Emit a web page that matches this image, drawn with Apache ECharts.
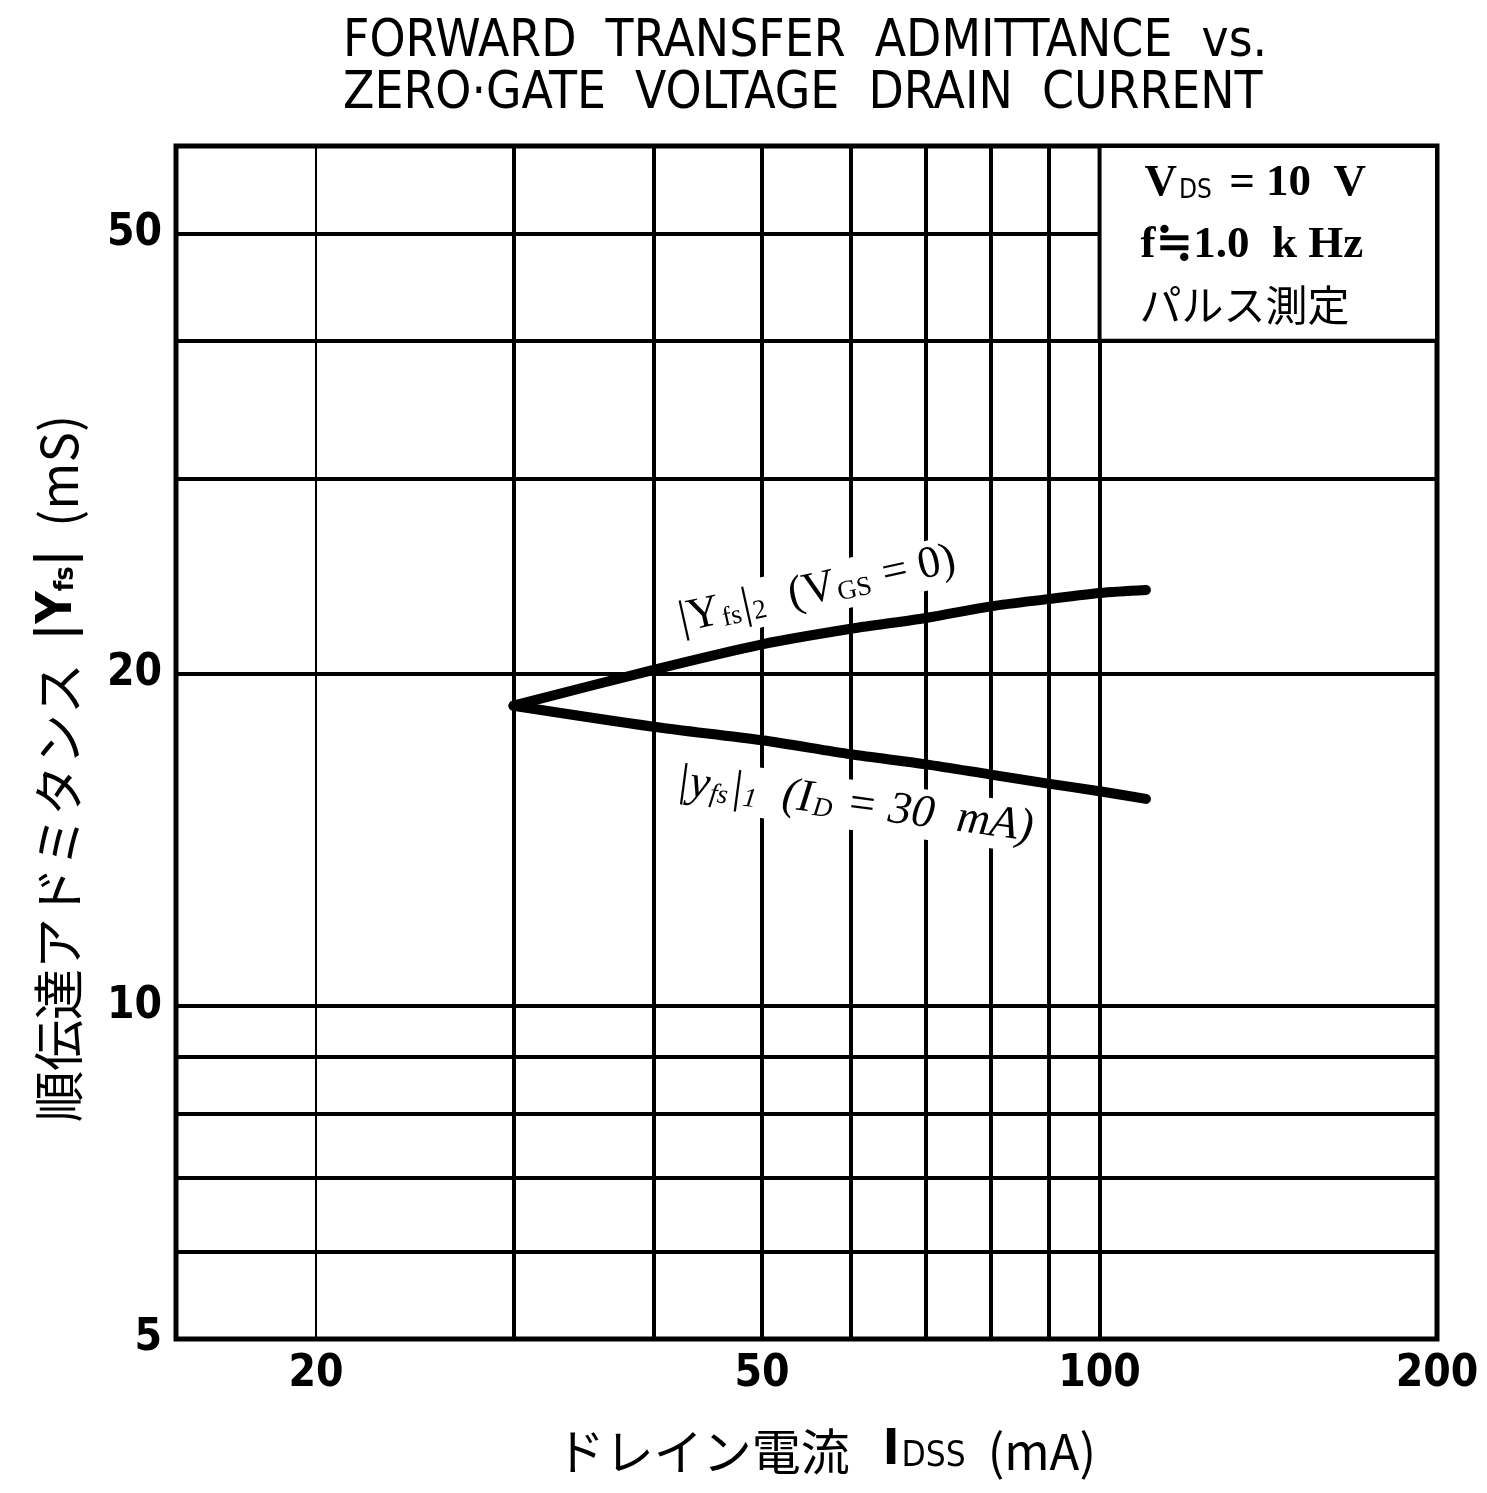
<!DOCTYPE html>
<html><head><meta charset="utf-8">
<script src="https://cdn.jsdelivr.net/npm/echarts@6/dist/echarts.min.js"></script>
<style>html,body{margin:0;padding:0;background:#fff}#c{width:1487px;height:1493px}</style>
</head><body><div id="c"></div>
<script>
// ---- data ----
const xGridValues = [20, 30, 40, 50, 60, 70, 80, 90, 100];
const yGridValues = [6, 7, 8, 9, 10, 20, 30, 40, 50];
const xTickLabels = [20, 50, 100, 200];
const yTickLabels = [5, 10, 20, 50];
const idss = [30, 40, 50, 60, 70, 80, 90, 100, 110];
const yfs2 = [18.7, 20.15, 21.25, 21.95, 22.45, 23.0, 23.35, 23.65, 23.8];   // VGS = 0
const yfs1 = [18.7, 17.9, 17.4, 16.9, 16.55, 16.2, 15.9, 15.65, 15.4];       // ID = 30 mA

const NARROW = "'Liberation Sans Narrow','DejaVu Sans Condensed','Liberation Sans',sans-serif";
const SERIF = "'Liberation Serif','DejaVu Serif',serif";
const CJK = "'Noto Sans CJK JP','Noto Sans CJK SC',sans-serif";

const chart = echarts.init(document.getElementById('c'), null, {renderer: 'canvas'});

const gridLineX = xGridValues.map(v => ({xAxis: v, lineStyle: {width: v === 20 ? 2 : 4}}));
const gridLineY = yGridValues.map(v => ({yAxis: v, lineStyle: {width: 4}}));

chart.setOption({
  backgroundColor: '#fff',
  animation: false,
  title: {
    text: 'FORWARD  TRANSFER  ADMITTANCE  vs.\nZERO·GATE  VOLTAGE  DRAIN  CURRENT',
    left: 338, top: 12,
    textStyle: {fontFamily: NARROW, fontSize: 51, fontWeight: 'normal', color: '#000', lineHeight: 52}
  },
  grid: {left: 176, right: 50, top: 146, bottom: 154, show: true, borderColor: '#000', borderWidth: 5, backgroundColor: 'transparent'},
  xAxis: {
    type: 'log', logBase: 10, min: 15, max: 200,
    axisLine: {show: false}, axisTick: {show: false}, splitLine: {show: false}, minorSplitLine: {show: false},
    axisLabel: {customValues: xTickLabels, color: '#000', fontFamily: NARROW, fontWeight: 'bold', fontSize: 44, margin: 14}
  },
  yAxis: {
    type: 'log', logBase: 10, min: 5, max: 60,
    axisLine: {show: false}, axisTick: {show: false}, splitLine: {show: false}, minorSplitLine: {show: false},
    axisLabel: {customValues: yTickLabels, color: '#000', fontFamily: NARROW, fontWeight: 'bold', fontSize: 44, margin: 14},
    name: '順伝達アドミタンス  {y||Y}{s|fs}{y||}  (mS)',
    nameLocation: 'middle', nameRotate: 90, nameGap: 92,
    nameTextStyle: {
      fontFamily: CJK, fontSize: 51, color: '#000', padding: [0, 0, 0, -52],
      rich: {
        y: {fontFamily: NARROW, fontSize: 50, fontWeight: 'bold', color: '#000'},
        s: {fontFamily: NARROW, fontSize: 27, fontWeight: 'bold', color: '#000', padding: [14, 0, 0, 0]}
      }
    }
  },
  series: [
    {
      type: 'line', data: [], silent: true, z: 1,
      markLine: {silent: true, symbol: 'none', label: {show: false}, animation: false,
        lineStyle: {color: '#000', type: 'solid'}, data: gridLineX.concat(gridLineY)}
    },
    {
      name: '|Yfs|2 (VGS=0)', type: 'line', data: idss.map((x, i) => [x, yfs2[i]]),
      showSymbol: false, smooth: 0.3, lineStyle: {color: '#000', width: 10, cap: 'round'}, z: 5
    },
    {
      name: '|yfs|1 (ID=30 mA)', type: 'line', data: idss.map((x, i) => [x, yfs1[i]]),
      showSymbol: false, smooth: 0.3, lineStyle: {color: '#000', width: 10, cap: 'round'}, z: 5
    }
  ]
});

// annotations placed through the chart's own coordinate system
const p = v => chart.convertToPixel({gridIndex: 0}, v);
const boxTL = p([100, 60]), boxBR = p([200, 40]);
const up = p([56, 23.8]);
const lo = p([60.5, 15.2]);
const xName = p([57, 5]);

chart.setOption({
  graphic: [
    {type: 'rect', z: 50, shape: {x: boxTL[0], y: boxTL[1], width: boxBR[0] - boxTL[0], height: boxBR[1] - boxTL[1]},
      style: {fill: '#fff', stroke: '#000', lineWidth: 4}},
    {type: 'text', z: 51, x: boxTL[0] + 45, y: boxTL[1] + 37,
      style: {text: '{b|V}{s|DS}{b| = 10  V}', verticalAlign: 'middle', align: 'left',
        rich: {b: {fontFamily: SERIF, fontWeight: 'bold', fontSize: 45, fill: '#000'},
               s: {fontFamily: NARROW, fontSize: 26, fill: '#000', padding: [16, 6, 0, 2]}}}},
    {type: 'text', z: 51, x: boxTL[0] + 41, y: boxTL[1] + 99,
      style: {text: 'f≒1.0  k Hz', fontFamily: SERIF, fontWeight: 'bold', fontSize: 45, fill: '#000', verticalAlign: 'middle', align: 'left'}},
    {type: 'text', z: 51, x: boxTL[0] + 40, y: boxTL[1] + 159,
      style: {text: 'パルス測定', fontFamily: CJK, fontSize: 42, fill: '#000', verticalAlign: 'middle', align: 'left'}},
    {type: 'text', z: 40, x: up[0], y: up[1], rotation: 12.5 * Math.PI / 180,
      style: {text: '{b||Y}{s|fs}{b||}{s|2}{b|  (V}{s|GS}{b| = 0)}', align: 'center', verticalAlign: 'middle',
        backgroundColor: '#fff', padding: [2, 6, 2, 6],
        rich: {b: {fontFamily: SERIF, fontSize: 45, fill: '#000'},
               s: {fontFamily: SERIF, fontSize: 27, fill: '#000', padding: [16, 2, 0, 1]}}}},
    {type: 'text', z: 40, x: lo[0], y: lo[1], rotation: -7.5 * Math.PI / 180,
      style: {text: '{b||y}{s|fs}{b||}{s|1}{b|  (I}{s|D}{b| = 30  mA)}', align: 'center', verticalAlign: 'middle',
        backgroundColor: '#fff', padding: [2, 6, 2, 6],
        rich: {b: {fontFamily: SERIF, fontStyle: 'italic', fontSize: 46, fill: '#000'},
               s: {fontFamily: SERIF, fontStyle: 'italic', fontSize: 27, fill: '#000', padding: [16, 2, 0, 1]}}}},
    {type: 'text', z: 40, x: xName[0], y: xName[1] + 112,
      style: {text: 'ドレイン電流   {b|I}{s|DSS}  (mA)', align: 'center', verticalAlign: 'middle',
        fontFamily: CJK, fontSize: 49, fill: '#000',
        rich: {b: {fontFamily: NARROW, fontWeight: 'bold', fontSize: 50, fill: '#000'},
               s: {fontFamily: NARROW, fontSize: 35, fill: '#000', padding: [12, 0, 0, 2]}}}}
  ]
});
</script></body></html>
